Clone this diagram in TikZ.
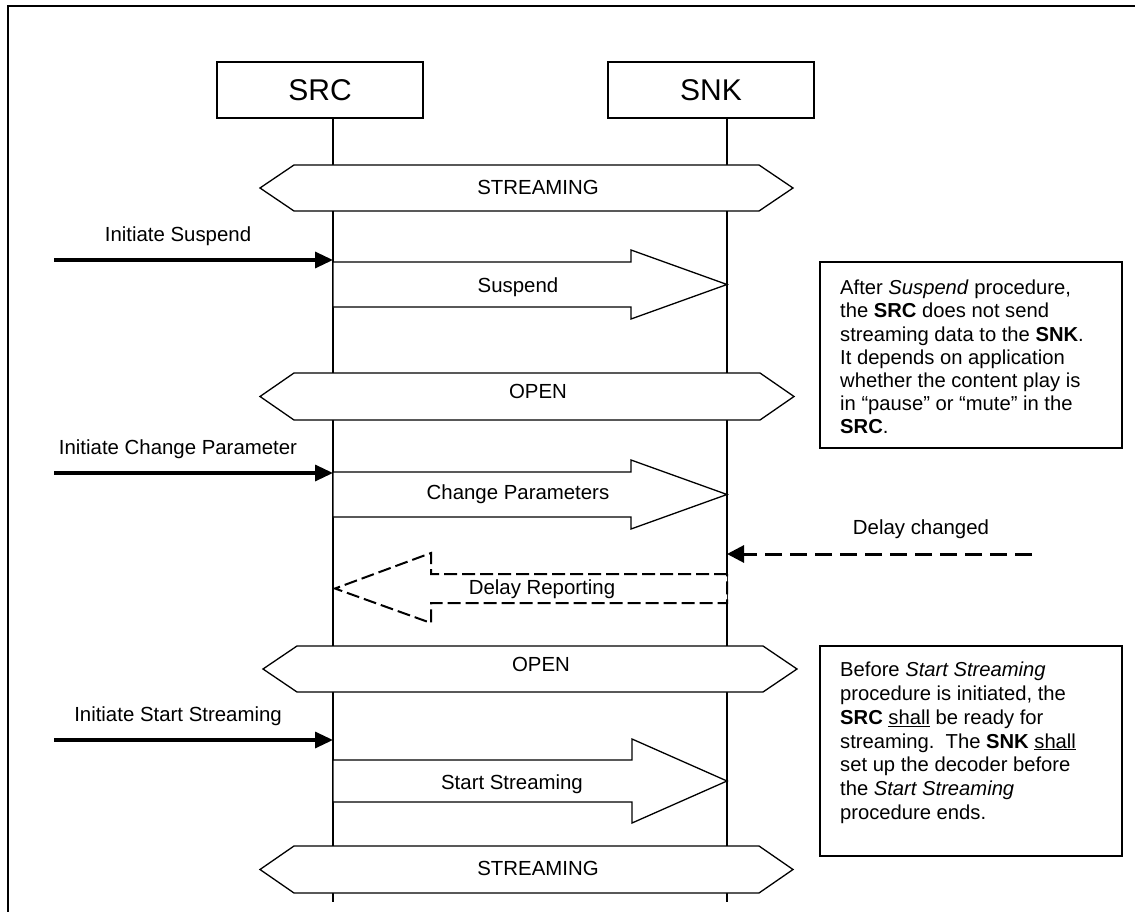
\documentclass[tikz,border=0pt]{standalone}
\usepackage{fontspec}
\setmainfont{Liberation Sans}
\usetikzlibrary{arrows.meta}
\begin{document}
\begin{tikzpicture}[x=1pt,y=-1pt,
  font=\fontsize{20.4}{24}\selectfont,
  thinline/.style={line width=1.3pt},
  lifeline/.style={line width=1.2pt},
  hexstate/.style={line width=1.3pt, fill=white, line join=miter},
  blockarrow/.style={line width=1.3pt, fill=white, line join=miter},
  dashblock/.style={line width=2pt, fill=white, dash pattern=on 13pt off 5pt, line join=miter},
  initarrow/.style={line width=3.3pt, -{Triangle[length=18pt,width=16pt]}},
  delayarrow/.style={line width=3pt, dash pattern=on 17pt off 8pt, -{Triangle[length=17pt,width=17pt]}},
  lbl/.style={inner sep=0pt, anchor=base},
  actor/.style={draw, line width=1.3pt, minimum width=206pt, minimum height=56pt, inner sep=0pt, font=\fontsize{30}{36}\selectfont},
  notebox/.style={draw, line width=2pt, inner sep=0pt},
  notetext/.style={inner sep=0pt, anchor=north west, align=left}
]
\useasboundingbox (0,0) rectangle (1135,912);

% outer frame (only top and left edges fall inside the picture)
\draw[line width=2pt] (7.5,912) -- (7.5,6) -- (1135,6);

% actors
\node[actor] (src) at (320,90) {SRC};
\node[actor] (snk) at (711,90) {SNK};

% lifelines
\coordinate (srcT) at (333,118);
\coordinate (srcB) at (333,902);
\coordinate (snkT) at (727,118);
\coordinate (snkB) at (727,902);
\draw[lifeline] (srcT) -- (srcB);
\draw[lifeline] (snkT) -- (snkB);

% states
\draw[hexstate] (260,188) -- (294,165) -- (759,165) -- (793,188) -- (759,211) -- (294,211) -- cycle;
\node[lbl] (st1) at (538,194.5) {STREAMING};

\draw[hexstate] (260,396.5) -- (294,373) -- (760,373) -- (794,396.5) -- (760,420) -- (294,420) -- cycle;
\node[lbl] (op1) at (538,398.5) {OPEN};

\draw[hexstate] (263,669) -- (297,646) -- (763,646) -- (797,669) -- (763,692) -- (297,692) -- cycle;
\node[lbl] (op2) at (541,671) {OPEN};

\draw[hexstate] (260,869.5) -- (294,846) -- (759,846) -- (793,869.5) -- (759,893) -- (294,893) -- cycle;
\node[lbl] (st2) at (538,875.7) {STREAMING};

% Initiate Suspend
\coordinate (is0) at (54,260);
\coordinate (is1) at (333,260);
\draw[initarrow] (is0) -- (is1);
\node[lbl] (isl) at (178,241) {Initiate Suspend};

% Suspend
\draw[blockarrow] (333,262) -- (631,262) -- (631,250) -- (727,284.5) -- (631,319) -- (631,307) -- (333,307) -- cycle;
\node[lbl] (susl) at (518,292.5) {Suspend};

% Initiate Change Parameter
\coordinate (ic0) at (54,473);
\coordinate (ic1) at (333,473);
\draw[initarrow] (ic0) -- (ic1);
\node[lbl] (icl) at (178,454.3) {Initiate Change Parameter};

% Change Parameters
\draw[blockarrow] (333,472) -- (631,472) -- (631,460) -- (727,494.5) -- (631,529) -- (631,517) -- (333,517) -- cycle;
\node[lbl] (cpl) at (518,499.5) {Change Parameters};

% Delay changed
\coordinate (dc0) at (1032,554);
\coordinate (dc1) at (727,554);
\draw[delayarrow] (dc0) -- (dc1);
\node[lbl] (dcl) at (921,534.3) {Delay changed};

% Delay Reporting
\draw[dashblock] (727,574) -- (431,574) -- (431,553) -- (335,588.5) -- (431,623) -- (431,603) -- (727,603) -- cycle;
\node[lbl] (drl) at (542,594) {Delay Reporting};

% Initiate Start Streaming
\coordinate (iss0) at (54,740);
\coordinate (iss1) at (333,740);
\draw[initarrow] (iss0) -- (iss1);
\node[lbl] (issl) at (178,721.7) {Initiate Start Streaming};

% Start Streaming
\draw[blockarrow] (333,760) -- (632,760) -- (632,739) -- (727,781) -- (632,823) -- (632,802) -- (333,802) -- cycle;
\node[lbl] (ssl) at (512,789.5) {Start Streaming};

% notes
\node[notebox, minimum width=302pt, minimum height=186pt] (note1) at (971,355) {};
\node[notetext, font=\fontsize{20.2}{23.1}\selectfont] (note1t) at (840,280) {%
After \textit{Suspend} procedure,\\
the \textbf{SRC} does not send\\
streaming data to the \textbf{SNK}.\\
It depends on application\\
whether the content play is\\
in “pause” or “mute” in the\\
\textbf{SRC}.};

\node[notebox, minimum width=302pt, minimum height=210pt] (note2) at (971,751) {};
\node[notetext, font=\fontsize{20.2}{23.9}\selectfont] (note2t) at (840,661.5) {%
Before \textit{Start Streaming}\\
procedure is initiated, the\\
\textbf{SRC} \underline{shall} be ready for\\
streaming.\ \ The \textbf{SNK} \underline{shall}\\
set up the decoder before\\
the \textit{Start Streaming}\\
procedure ends.};
\end{tikzpicture}
\end{document}
